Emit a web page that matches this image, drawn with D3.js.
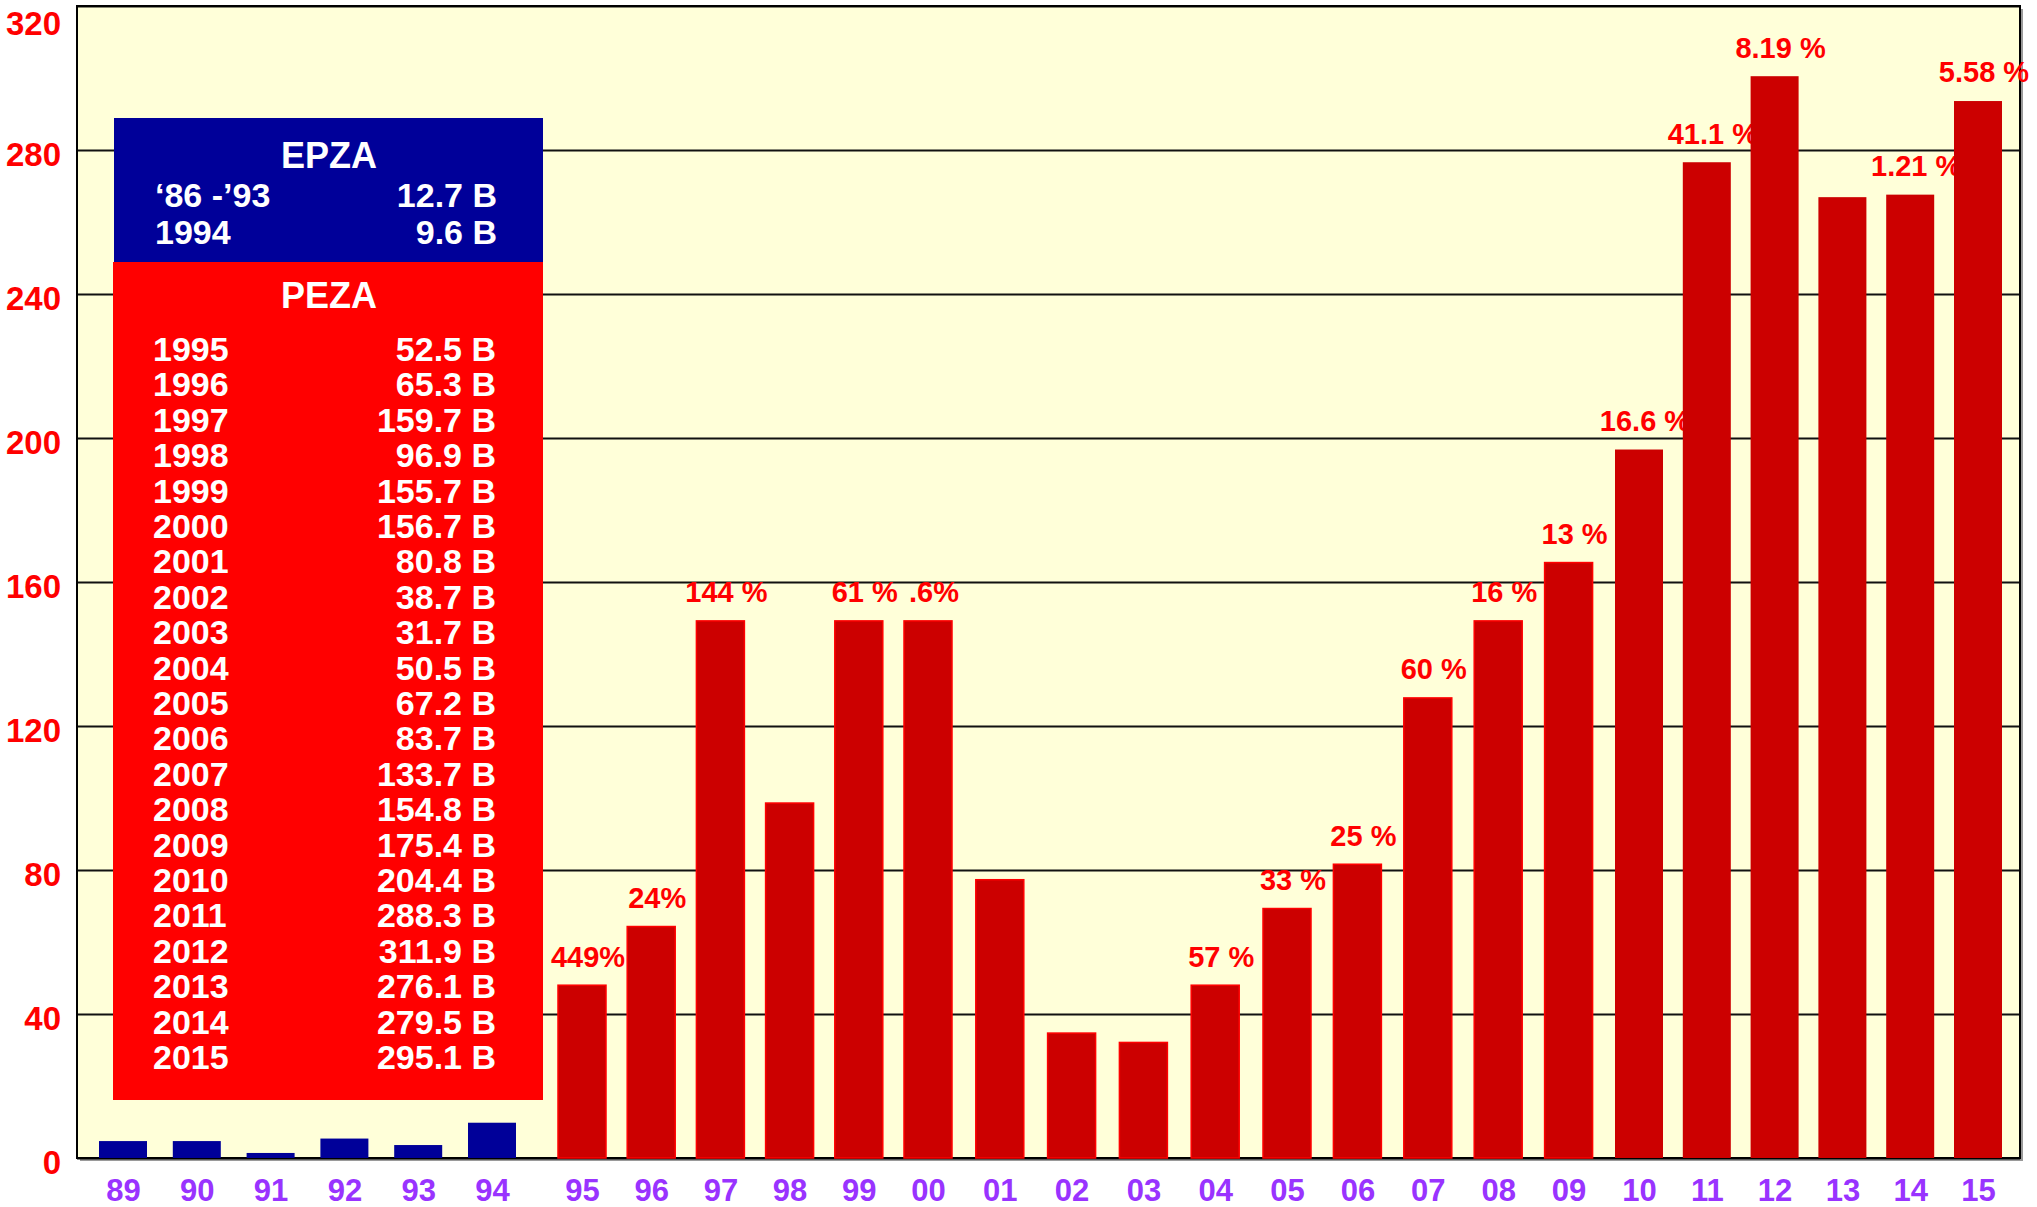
<!doctype html>
<html>
<head>
    <meta charset="utf-8"/>
    <style>
        body { margin: 0; background: #fff; }
        svg { display: block; font-family: "Liberation Sans", Arial, sans-serif; font-weight: bold; }
    </style>
    <script src="https://d3js.org/d3.v7.min.js"></script>
</head>
<body>
<svg width="2037" height="1207"></svg>

<script>
    // year labels on the x axis, 1989 .. 2015
    var years = ["89", "90", "91", "92", "93", "94", "95", "96", "97", "98", "99", "00", "01", "02",
        "03", "04", "05", "06", "07", "08", "09", "10", "11", "12", "13", "14", "15"];

    // bar heights as drawn (89-94 EPZA, 95-15 PEZA)
    var epzaValues = [4.7, 4.7, 1.4, 5.4, 3.6, 9.8];
    var pezaValues = [48.0, 64.3, 149.2, 98.6, 149.2, 149.2, 77.3, 34.7, 32.1, 48.0, 69.3,
        81.6, 127.8, 149.2, 165.4, 196.8, 276.6, 300.5, 266.9, 267.6, 293.6];

    // growth labels over the PEZA bars (null = none)
    var growthLabels = ["449%", "24%", "144 %", null, "61 %", ".6%", null, null, null, "57 %", "33 %",
        "25 %", "60 %", "16 %", "13 %", "16.6 %", "41.1 %", "8.19 %", null, "1.21 %", "5.58 %"];

    var yTicks = [0, 40, 80, 120, 160, 200, 240, 280, 320];

    // legend table
    var epzaPeriods = ["\u201886 -\u201993", "1994"];
    var epzaTotals = ["12.7 B", "9.6 B"];
    var pezaYears = ["1995", "1996", "1997", "1998", "1999", "2000", "2001", "2002", "2003", "2004",
        "2005", "2006", "2007", "2008", "2009", "2010", "2011", "2012", "2013", "2014", "2015"];
    var pezaTotals = ["52.5 B", "65.3 B", "159.7 B", "96.9 B", "155.7 B", "156.7 B", "80.8 B", "38.7 B",
        "31.7 B", "50.5 B", "67.2 B", "83.7 B", "133.7 B", "154.8 B", "175.4 B", "204.4 B", "288.3 B",
        "311.9 B", "276.1 B", "279.5 B", "295.1 B"];

    var svg = d3.select("svg");
    var plotLeft = 77, plotRight = 2020, plotTop = 6, plotBottom = 1158;
    var barW = 48;

    var y = d3.scaleLinear().domain([0, 320]).range([plotBottom, plotTop]);
    // bar centres are not evenly spaced in the original slide, so piecewise
    var x = d3.scaleLinear()
        .domain([0, 5, 6, 11, 16, 21, 26])
        .range([123, 492, 582, 928, 1287, 1639, 1978]);

    var bars = epzaValues.map(function(v, i) { return {i: i, v: v, kind: "epza"}; })
        .concat(pezaValues.map(function(v, i) {
            return {i: i + epzaValues.length, v: v, kind: "peza", label: growthLabels[i]};
        }));

    // plot background + shadow
    svg.append("rect").attr("x", plotLeft + 3).attr("y", plotTop + 3)
        .attr("width", plotRight - plotLeft).attr("height", plotBottom - plotTop).attr("fill", "#9a9a9a");
    svg.append("rect").attr("x", plotLeft).attr("y", plotTop)
        .attr("width", plotRight - plotLeft).attr("height", plotBottom - plotTop).attr("fill", "#FFFFD9");

    // y axis + gridlines
    var yAxis = svg.append("g")
        .attr("transform", "translate(" + plotLeft + ",0)")
        .call(d3.axisLeft(y).tickValues(yTicks).tickSize(-(plotRight - plotLeft)).tickPadding(16));
    yAxis.select(".domain").remove();
    yAxis.selectAll(".tick line").attr("stroke", "#111").attr("stroke-width", 2);
    yAxis.selectAll(".tick text")
        .attr("fill", "#FF0000").attr("font-size", 33)
        .attr("dy", "0.38em")
        .attr("y", function(d) { return d === 320 ? 16 : 3; });

    // x axis labels
    var xAxis = svg.append("g")
        .attr("transform", "translate(0," + plotBottom + ")")
        .call(d3.axisBottom(x).tickValues(d3.range(years.length))
            .tickFormat(function(i) { return years[i]; }).tickSize(0).tickPadding(21));
    xAxis.select(".domain").remove();
    xAxis.selectAll(".tick text")
        .attr("fill", "#9933FF").attr("font-size", 31);

    svg.selectAll(".tick text").attr("font-family", "Liberation Sans, Arial, sans-serif")
        .attr("font-weight", "bold");

    // plot border
    svg.append("rect").attr("x", plotLeft).attr("y", plotTop)
        .attr("width", plotRight - plotLeft).attr("height", plotBottom - plotTop)
        .attr("fill", "none").attr("stroke", "#000").attr("stroke-width", 2);

    // growth labels (drawn under the bars, as in the original)
    svg.append("g").selectAll("text")
        .data(bars.filter(function(d) { return d.label; }))
        .join("text")
        .attr("x", function(d) { return x(d.i) + 6; })
        .attr("y", function(d) { return y(d.v) - 29; })
        .attr("dy", "0.36em")
        .attr("text-anchor", "middle")
        .attr("font-size", 29)
        .attr("fill", "#FF0000")
        .text(function(d) { return d.label; });

    // bars
    svg.append("g").selectAll("rect")
        .data(bars)
        .join("rect")
        .attr("x", function(d) { return x(d.i) - barW / 2; })
        .attr("width", barW)
        .attr("y", function(d) { return y(d.v); })
        .attr("height", function(d) { return y(0) - y(d.v); })
        .attr("fill", function(d) { return d.kind === "epza" ? "#000099" : "#CC0000"; })
        .attr("stroke", function(d) { return d.kind === "peza" && d.i <= 20 ? "#FF0000" : "none"; })
        .attr("stroke-width", 1.5);

    // legend table
    var legend = svg.append("g").attr("fill", "#fff");
    legend.append("rect").attr("x", 114).attr("y", 118).attr("width", 429).attr("height", 144)
        .attr("fill", "#000099");
    legend.append("rect").attr("x", 113).attr("y", 262).attr("width", 430).attr("height", 838)
        .attr("fill", "#FF0000");

    legend.append("text").attr("x", 329).attr("y", 168).attr("text-anchor", "middle")
        .attr("font-size", 36).text("EPZA");
    legend.append("text").attr("x", 329).attr("y", 308).attr("text-anchor", "middle")
        .attr("font-size", 36).text("PEZA");

    epzaPeriods.forEach(function(p, i) {
        var by = 207 + i * 36.5;
        legend.append("text").attr("x", 155).attr("y", by).attr("font-size", 34).text(p);
        legend.append("text").attr("x", 497).attr("y", by).attr("text-anchor", "end")
            .attr("font-size", 34).text(epzaTotals[i]);
    });
    pezaYears.forEach(function(p, i) {
        var by = 361 + i * 35.4;
        legend.append("text").attr("x", 153).attr("y", by).attr("font-size", 34).text(p);
        legend.append("text").attr("x", 496).attr("y", by).attr("text-anchor", "end")
            .attr("font-size", 34).text(pezaTotals[i]);
    });
</script>
</body>
</html>
